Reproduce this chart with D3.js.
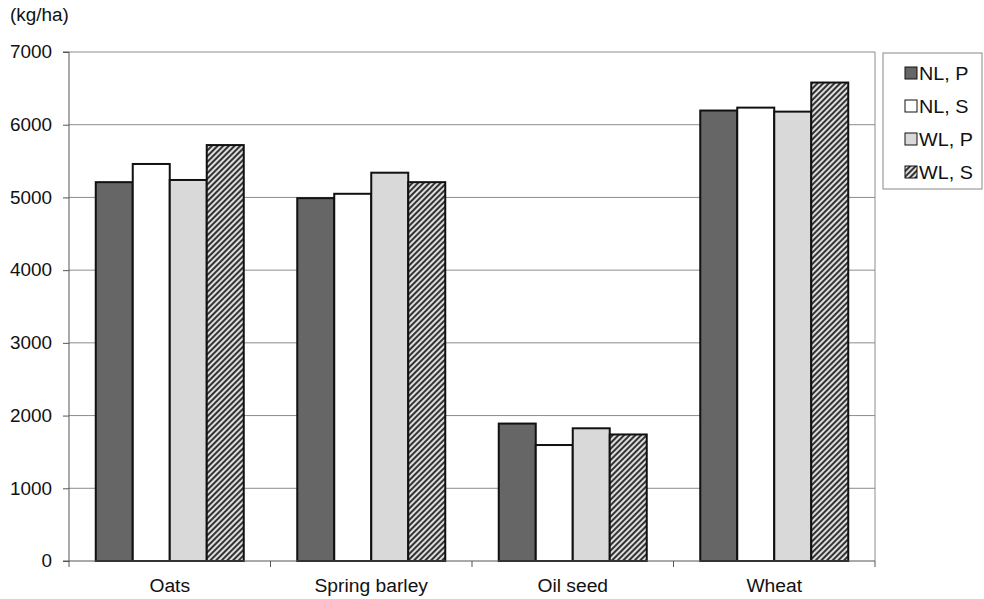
<!DOCTYPE html>
<html><head><meta charset="utf-8">
<script src="https://cdn.jsdelivr.net/npm/d3@7"></script>
<style>body{margin:0;background:#fff}svg{display:block;font-family:"Liberation Sans",Arial,sans-serif}</style>
</head><body><svg id="c" width="984" height="599"></svg>
<script>
const categories = ["Oats","Spring barley","Oil seed","Wheat"];
const seriesNames = ["NL, P","NL, S","WL, P","WL, S"];
const nlP = [5210, 4990, 1890, 6195];
const nlS = [5460, 5050, 1595, 6235];
const wlP = [5240, 5340, 1825, 6180];
const wlS = [5720, 5210, 1740, 6580];
const yTicks = [0,1000,2000,3000,4000,5000,6000,7000];
const values = [nlP, nlS, wlP, wlS];

const svg = d3.select("#c");
const defs = svg.append("defs");
const pat = defs.append("pattern").attr("id","hatch").attr("patternUnits","userSpaceOnUse")
  .attr("width",4).attr("height",4).attr("patternTransform","rotate(45)");
pat.append("rect").attr("width",4).attr("height",4).attr("fill","#ddd");
pat.append("rect").attr("width",2).attr("height",4).attr("fill","#333");
const fills = ["#666666","#ffffff","#d9d9d9","url(#hatch)"];

const L=69, R=875, T=52, B=561, GW=148;
const x = d3.scaleBand().domain(categories).range([L,R]);
const xs = d3.scaleBand().domain(seriesNames).range([0,GW]);
const y = d3.scaleLinear().domain([0,7000]).range([B,T]);

function widen(sel, f){
  sel.each(function(){
    const w = this.getComputedTextLength();
    d3.select(this).attr("textLength", w*f).attr("lengthAdjust","spacingAndGlyphs");
  });
}

// gridlines
svg.append("g").selectAll("line").data(yTicks.filter(d=>d>0)).join("line")
  .attr("x1",L).attr("x2",R).attr("y1",d=>y(d)).attr("y2",d=>y(d))
  .attr("stroke","#8c8c8c").attr("stroke-width",1);
// right border
svg.append("line").attr("x1",R).attr("x2",R).attr("y1",T).attr("y2",B).attr("stroke","#8c8c8c");

// bars
categories.forEach((c,i)=>{
  const x0 = x(c) + (x.bandwidth()-GW)/2;
  seriesNames.forEach((s,j)=>{
    const v = values[j][i];
    svg.append("rect").attr("x",x0+xs(s)).attr("width",xs.bandwidth())
      .attr("y",y(v)).attr("height",B-y(v))
      .attr("fill",fills[j]).attr("stroke","#111").attr("stroke-width",2);
  });
});

// y axis
const ya = svg.append("g").attr("transform",`translate(${L},0)`)
  .call(d3.axisLeft(y).tickValues(yTicks).tickSize(6).tickPadding(11).tickFormat(d3.format("d")));
ya.select(".domain").attr("stroke","#555").attr("d",`M-6,${T}H0V${B}H-6`);
ya.selectAll(".tick line").attr("stroke","#555");
ya.selectAll("text").attr("font-size",18).attr("fill","#111").attr("font-family","Liberation Sans, Arial, sans-serif");
widen(ya.selectAll("text"), 1.05);
// x axis baseline and category separator ticks
svg.append("line").attr("x1",L).attr("x2",R).attr("y1",B).attr("y2",B).attr("stroke","#555");
const seps = categories.map(c=>x(c)).concat([R]);
svg.append("g").selectAll("line").data(seps).join("line")
  .attr("x1",d=>d).attr("x2",d=>d).attr("y1",B).attr("y2",B+6).attr("stroke","#555");
// x labels
const xl = svg.append("g").selectAll("text").data(categories).join("text")
  .attr("x",d=>x(d)+x.bandwidth()/2).attr("y",592).attr("text-anchor","middle")
  .attr("font-size",18).attr("fill","#111").text(d=>d);
widen(xl, 1.07);

const yl = svg.append("text").attr("x",10).attr("y",21).attr("font-size",18).attr("fill","#111").text("(kg/ha)");
widen(yl, 1.05);

// legend
const lg = svg.append("g");
lg.append("rect").attr("x",883).attr("y",53).attr("width",99).attr("height",136)
  .attr("fill","#fff").attr("stroke","#888");
seriesNames.forEach((s,j)=>{
  const yy = 73 + j*33;
  lg.append("rect").attr("x",905).attr("y",yy-6).attr("width",12).attr("height",12)
    .attr("fill",fills[j]).attr("stroke","#111").attr("stroke-width",1);
  const t = lg.append("text").attr("x",919).attr("y",yy+7).attr("font-size",18).attr("fill","#111").text(s);
  widen(t, 1.1);
});
</script></body></html>
